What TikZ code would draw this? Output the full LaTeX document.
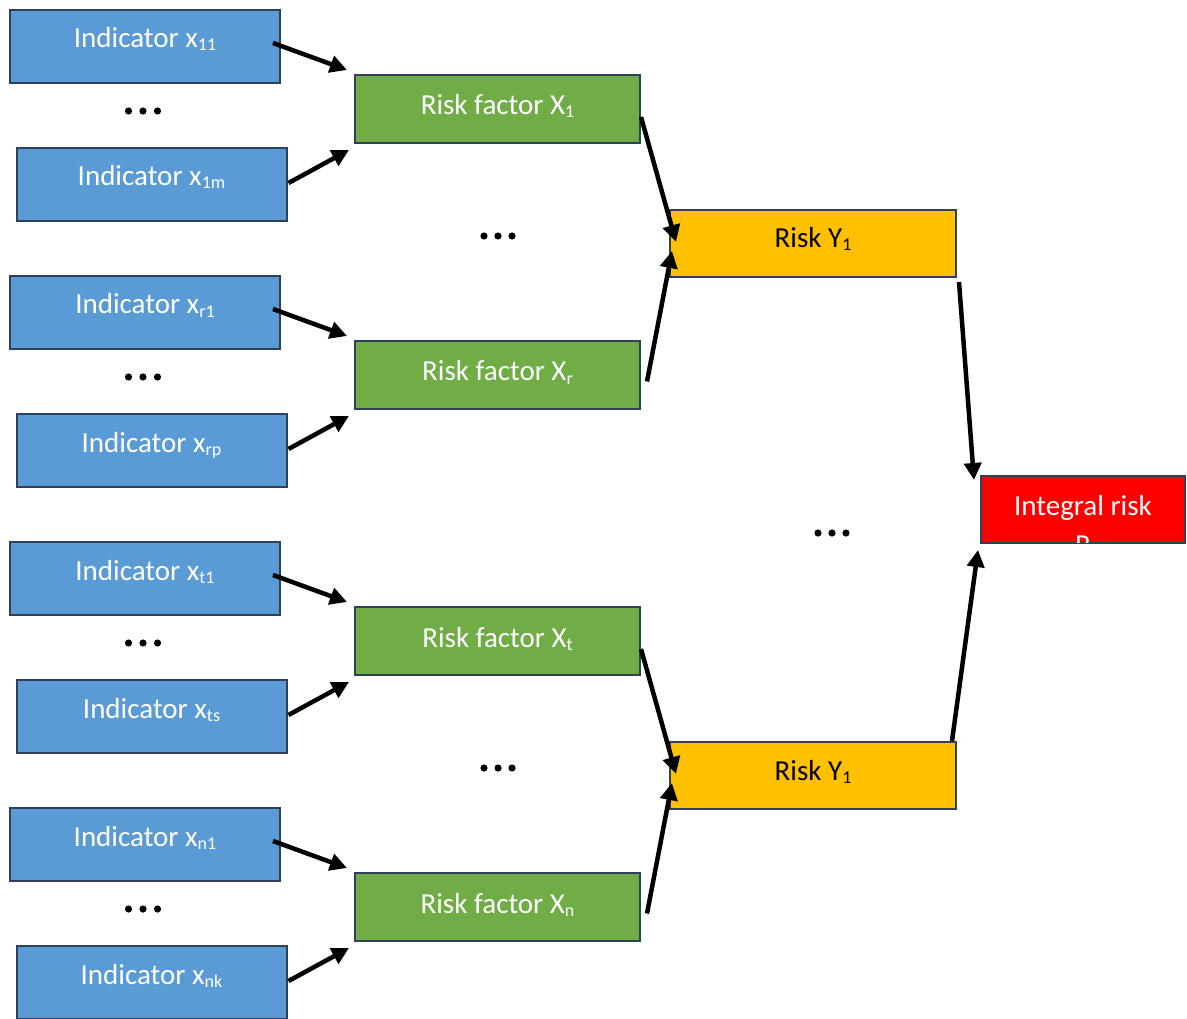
\documentclass[tikz,border=0pt]{standalone}
\usepackage{fontspec}
\setmainfont{Carlito}
\usetikzlibrary{arrows.meta,calc}
\definecolor{bluefill}{RGB}{91,155,213}
\definecolor{greenfill}{RGB}{112,173,71}
\definecolor{goldfill}{RGB}{255,192,0}
\definecolor{redfill}{RGB}{255,0,0}
\definecolor{edgecol}{RGB}{47,64,90}
\newcommand\sbs[1]{\raisebox{-3pt}{\fontsize{18}{18}\selectfont #1}}
\begin{document}
\begin{tikzpicture}[x=1pt,y=-1pt,
  box/.style={draw=edgecol, line width=2pt, inner sep=0pt, font=\fontsize{29}{35}\selectfont},
  ind/.style={box, fill=bluefill, minimum width=270pt, minimum height=73pt, text=white, text height=22pt, text depth=19pt},
  rfbox/.style={box, fill=greenfill, minimum width=285pt, minimum height=68pt, text=white, text height=22pt, text depth=10pt},
  rybox/.style={box, fill=goldfill, minimum width=286pt, minimum height=67pt, text=black, text height=22pt, text depth=13pt},
  txtw/.style={inner sep=0pt, text=white, font=\fontsize{29}{35}\selectfont},
  arr/.style={line width=4.5pt, -{Triangle[length=17pt,width=17pt]}}]
\useasboundingbox (0,0) rectangle (1187,1019);
\clip (0,0) rectangle (1187,1019);
\foreach \k/\s/\t/\u in {0/11/1m/1, 1/r1/rp/r, 2/t1/ts/t, 3/n1/nk/n} {
  \pgfmathsetmacro\dy{266*\k}
  \node[ind] (ia\k) at (145,46.5+\dy) {Indicator x\sbs{\s}};
  \node[ind] (ib\k) at (151.5,184.5+\dy) {Indicator x\sbs{\t}};
  \node[rfbox] (rf\k) at (497.5,109+\dy) {Risk factor X\sbs{\u}};
  \fill (128.5,111+\dy) circle (3.6pt) (143,111+\dy) circle (3.6pt) (157.5,111+\dy) circle (3.6pt);
  \draw[arr] ([shift={(-8,-3.5)}]ia\k.east) -- ([shift={(-7,-4)}]rf\k.north west);
  \draw[arr] ([shift={(1,-1.5)}]ib\k.east) -- ([shift={(-5,6)}]rf\k.south west);
}
\node[rybox] (ry1) at (813,243.5) {Risk Y\sbs{1}};
\node[rybox] (ry2) at (813,775.5) {Risk Y\sbs{1}};
\node[box, fill=redfill, minimum width=204pt, minimum height=67pt] (ir) at (1083,509.5) {};
\begin{scope}
  \clip ([shift={(2,-2)}]ir.south west) rectangle ([shift={(-2,2)}]ir.north east);
  \node[txtw, anchor=base] (irt1) at (1083,515) {Integral risk};
  \node[txtw, anchor=base] (irt2) at (1083,554) {R};
\end{scope}
\foreach \y in {236,768} {
  \fill (484,\y) circle (3.6pt) (498,\y) circle (3.6pt) (512,\y) circle (3.6pt);
}
\fill (818,533) circle (3.6pt) (832,533) circle (3.6pt) (846,533) circle (3.6pt);
\draw[arr] ([shift={(0,43)}]rf0.north east) -- ([shift={(7,-1.5)}]ry1.west);
\draw[arr] ([shift={(6,6.5)}]rf1.east) -- ([shift={(3,7.5)}]ry1.west);
\draw[arr] ([shift={(0,43)}]rf2.north east) -- ([shift={(7,-1.5)}]ry2.west);
\draw[arr] ([shift={(6,6.5)}]rf3.east) -- ([shift={(3,7.5)}]ry2.west);
\draw[arr] ([shift={(2,4)}]ry1.south east) -- ([shift={(-6,5)}]ir.north west);
\draw[arr] ([shift={(-5,0)}]ry2.north east) -- ([shift={(-2,6)}]ir.south west);
\end{tikzpicture}
\end{document}
